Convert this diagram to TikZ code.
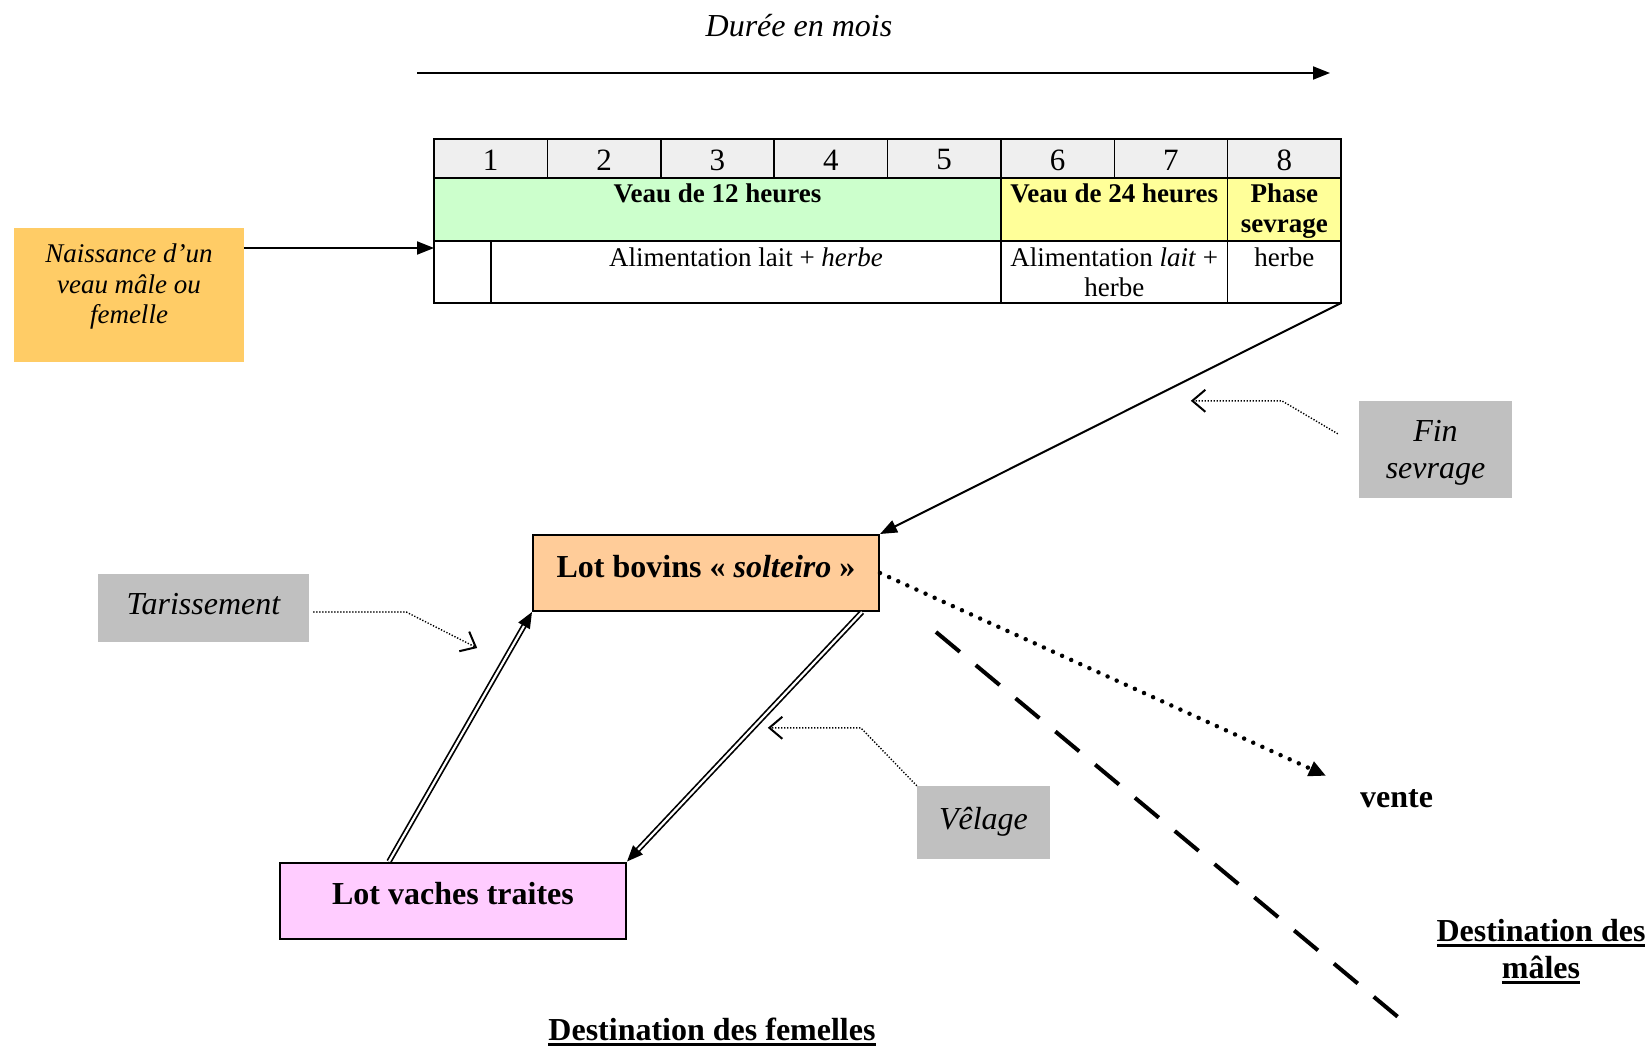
\documentclass[tikz,border=0pt]{standalone}
\usepackage{fontspec}
\setmainfont{Liberation Serif}
\usetikzlibrary{arrows.meta}
\definecolor{vert}{HTML}{CCFFCC}
\definecolor{jaune}{HTML}{FFFF99}
\definecolor{entete}{HTML}{EFEFEF}
\definecolor{orangeclair}{HTML}{FFCC66}
\definecolor{peche}{HTML}{FFCC99}
\definecolor{rose}{HTML}{FFCCFF}
\definecolor{gris}{HTML}{C0C0C0}
\newcommand{\souligne}[1]{\leavevmode\vtop{\hbox{#1}\kern3pt\hrule height 3pt}}
\tikzset{
  fleche/.style={line width=2pt,-{Triangle[length=17pt,width=13pt]}},
  dblfleche/.style={double,double distance=2.2pt,line width=1.7pt,-{Triangle[length=16pt,width=13pt]}},
  renvoi/.style={line width=1.4pt,dash pattern=on 1.3pt off 1.7pt,-{Straight Barb[length=13pt,width=22pt,line width=2pt]}},
  pointille/.style={line width=4.5pt,line cap=round,dash pattern=on 0pt off 10pt,-{Triangle[length=17pt,width=15pt]}},
  tirets/.style={line width=4pt,dash pattern=on 31pt off 20.8pt},
  boite/.style={draw=none,fill=gris,font=\fontsize{32}{37}\selectfont\itshape,align=center,inner sep=0pt,text depth=8pt},
  lot/.style={draw,line width=2pt,font=\fontsize{32}{36}\selectfont\bfseries,minimum width=346pt,minimum height=76pt,text depth=14pt,inner sep=0pt},
  cellule/.style={inner sep=0pt,anchor=north,align=center,font=\fontsize{27}{30}\selectfont},
  titre/.style={inner sep=0pt,align=center,font=\fontsize{32}{37}\selectfont\bfseries}
}
\begin{document}
\begin{tikzpicture}[x=1pt,y=-1pt]
  \useasboundingbox (0,0) rectangle (1652,1051);

  \node[inner sep=0pt,font=\fontsize{32}{36}\selectfont\itshape](duree)at(799,26){Durée en mois};
  \coordinate (debut) at (417,73);
  \coordinate (finmois) at (1330,73);
  \draw[fleche] (debut) to (finmois);

  \fill[entete] (434,139) rectangle (1341,178);
  \fill[vert] (434,178) rectangle (1001,241);
  \fill[jaune] (1001,178) rectangle (1341,241);
  \draw[line width=1.5pt] (434,178) to (1341,178);
  \draw[line width=1.5pt] (434,241) to (1341,241);
  \foreach \i in {1,...,7}
    \draw[line width=1.5pt] (434+\i*113.375,139) to (434+\i*113.375,178);
  \draw[line width=1.5pt] (1001,178) to (1001,303);
  \draw[line width=1.5pt] (1227.6,178) to (1227.6,303);
  \draw[line width=1.5pt] (491,241) to (491,303);
  \draw[line width=2pt] (434,139) rectangle (1341,303);
  \foreach \i in {1,...,8}
    \node[inner sep=0pt,font=\fontsize{31}{34}\selectfont](m\i)at(434+\i*113.375-56.7,160){\i};
  \coordinate (entree) at (434,248);
  \coordinate (coin) at (1341,303);

  \node[cellule,font=\fontsize{27}{30}\selectfont\bfseries](veau12)at(717.5,184){Veau de 12 heures};
  \node[cellule,font=\fontsize{27}{30}\selectfont\bfseries](veau24)at(1114.3,184){Veau de 24 heures};
  \node[cellule,font=\fontsize{27}{30}\selectfont\bfseries](phase)at(1284.3,184){Phase\\sevrage};
  \node[cellule](alim12)at(746,248){Alimentation lait + \textit{herbe}};
  \node[cellule](alim24)at(1114.3,248){Alimentation \textit{lait} +\\herbe};
  \node[cellule](herbe)at(1284.3,248){herbe};

  \node[draw=none,fill=orangeclair,font=\fontsize{27}{30.5}\selectfont\itshape,align=center,inner sep=0pt,
    minimum width=230pt,minimum height=134pt,text depth=22pt](naissance)at(129,295){Naissance d’un\\veau mâle ou\\femelle};
  \node[boite,minimum width=153pt,minimum height=97pt,text depth=0pt](fin)at(1435.5,449.5){Fin\\sevrage};
  \node[boite,minimum width=211pt,minimum height=68pt](tarissement)at(203.5,608){Tarissement};
  \node[boite,minimum width=133pt,minimum height=73pt](velage)at(983.5,822.5){Vêlage};
  \node[lot,fill=peche](bovins)at(706,573){Lot bovins «~\textit{solteiro}~»};
  \node[lot,fill=rose](vaches)at(453,900.5){Lot vaches traites};
  \node[titre,anchor=base west](vente)at(1360,807){vente};
  \node[titre,anchor=base](destmal)at(1541,978){\souligne{Destination des}\\\souligne{mâles}};
  \node[titre,anchor=base](destfem)at(712,1040){\souligne{Destination des femelles}};
  \coordinate (trait1) at (936,632);
  \coordinate (trait2) at (1398,1017);

  \draw[fleche] (naissance.north east|-entree) to (entree);
  \draw[fleche] (coin) to (bovins.north east);
  \draw[renvoi] ([shift={(-21,33)}]fin.north west) -- ++(-56,-33) -- ++(-91,0);
  \draw[renvoi] ([shift={(4,4)}]tarissement.east) -- ++(93,0) -- ++(71,36);
  \draw[renvoi] (velage.north west) -- ++(-56,-58) -- ++(-93,0);
  \draw[dblfleche] ([xshift=110pt]vaches.north west) to (bovins.south west);
  \draw[dblfleche] ([xshift=-18pt]bovins.south east) to (vaches.north east);
  \draw[pointille] (bovins.east) to ([shift={(-34,-13)}]vente.north west);
  \draw[tirets] (trait1) to (trait2);
\end{tikzpicture}
\end{document}
